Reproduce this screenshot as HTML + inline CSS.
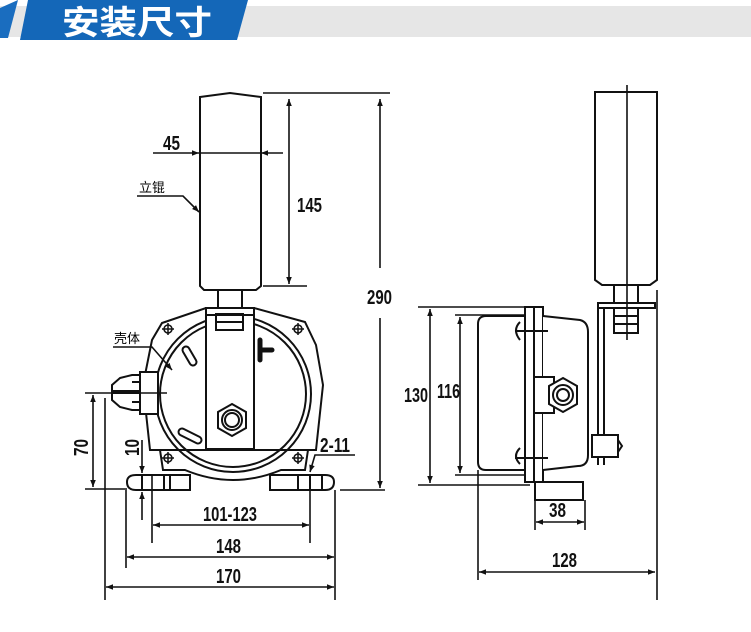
<!DOCTYPE html>
<html><head><meta charset="utf-8"><style>
html,body{margin:0;padding:0;background:#fff;width:751px;height:632px;overflow:hidden}
svg{display:block}
text{font-family:"Liberation Sans","Noto Sans CJK SC",sans-serif}
.d{font-weight:bold;font-size:20px;fill:#111}
</style></head><body>
<svg width="751" height="632" viewBox="0 0 751 632">
<defs>
<marker id="a" viewBox="0 0 10 10" refX="10" refY="5" markerWidth="16" markerHeight="7" markerUnits="userSpaceOnUse" orient="auto-start-reverse"><path d="M0,1 L10,5 L0,9 z" fill="#111"/></marker>
</defs>
<!-- header -->
<rect x="0" y="6" width="751" height="31" fill="#e6e6e6"/>
<polygon points="0,8 18,0 8,38 0,38" fill="#1a6dbf"/>
<polygon points="28,0 248,0 237,40 20,40" fill="#1467b8"/>
<text x="62" y="34" font-size="33" font-weight="bold" fill="#fff" textLength="150" lengthAdjust="spacingAndGlyphs" style="font-family:'Noto Sans CJK SC',sans-serif">安装尺寸</text>

<g stroke="#111" stroke-width="2" fill="none">
<path d="M200,97 L230,93 L261,97 L261,286 L256,290 L204,290 L200,286 Z" fill="#fff"/>
<rect x="218" y="290" width="24" height="18" fill="#fff"/>
<path d="M150,450 L143,385 L152,340 L162,323 L206,308 L254,308 L305,322 L316,345 L323,385 L316,450 Z" fill="#fff"/>
<circle cx="233" cy="394" r="78"/>
<circle cx="233" cy="394" r="73"/>
<path d="M160,450 L163,470 L185,470 Q233,490 281,470 L305,470 L308,450"/>
<rect x="206" y="308" width="48" height="141" fill="#fff"/>
<line x1="206" y1="315" x2="254" y2="315"/>
<rect x="216" y="314" width="27" height="16"/>
<line x1="216" y1="322" x2="243" y2="322"/>
<polygon points="232,404 246,412 246,428 232,436 218,428 218,412" fill="#fff"/>
<circle cx="232" cy="420" r="10"/><circle cx="232" cy="420" r="7"/>
<path d="M260,340 L260,360 M260,350 L272,350" stroke-width="5" stroke-linecap="round"/>
<path d="M186,350 L193,362" stroke-width="9" stroke-linecap="round"/>
<path d="M186,350 L193,362" stroke="#fff" stroke-width="5" stroke-linecap="round"/>
<path d="M182,432 L198,440" stroke-width="9" stroke-linecap="round"/>
<path d="M182,432 L198,440" stroke="#fff" stroke-width="5" stroke-linecap="round"/>
<path d="M120,378 L132,375 L140,375 L140,410 L132,410 L120,407 L112,400 L112,385 Z" fill="#fff"/>
<rect x="140" y="372" width="18" height="42" fill="#fff"/>
<line x1="132" y1="382" x2="140" y2="382"/><line x1="132" y1="402" x2="140" y2="402"/>
<line x1="113" y1="392" x2="140" y2="392" stroke-width="4"/>
<path d="M136,475 L190,475 L190,490 L136,490 Q127,490 127,482 Q127,475 136,475 Z" fill="#fff"/>
<line x1="142" y1="475" x2="142" y2="490"/><line x1="164" y1="475" x2="164" y2="490"/><line x1="170" y1="475" x2="170" y2="490"/>
<path d="M270,475 L325,475 Q334,475 334,482 Q334,490 325,490 L270,490 Z" fill="#fff"/>
<line x1="298" y1="475" x2="298" y2="490"/><line x1="310" y1="475" x2="310" y2="490"/><line x1="322" y1="475" x2="322" y2="490"/>
</g>
<g stroke="#111" stroke-width="1.5" fill="none">
<circle cx="168" cy="329" r="4"/><path d="M162,329h12M168,323v12"/>
<circle cx="298" cy="329" r="4"/><path d="M292,329h12M298,323v12"/>
<circle cx="168" cy="458" r="4"/><path d="M162,458h12M168,452v12"/>
<circle cx="298" cy="458" r="4"/><path d="M292,458h12M298,452v12"/>
</g>

<g stroke="#111" stroke-width="1.6" fill="none">
<line x1="153" y1="153" x2="199" y2="153" marker-end="url(#a)"/>
<line x1="199" y1="153" x2="261" y2="153"/>
<line x1="283" y1="153" x2="261" y2="153" marker-end="url(#a)"/>
<line x1="263" y1="93" x2="390" y2="93"/>
<line x1="263" y1="286" x2="307" y2="286"/>
<line x1="289" y1="99" x2="289" y2="284" marker-start="url(#a)" marker-end="url(#a)"/>
<line x1="380" y1="99" x2="380" y2="268" marker-start="url(#a)"/>
<line x1="380" y1="318" x2="380" y2="488" marker-end="url(#a)"/>
<line x1="340" y1="490" x2="385" y2="490"/>
<path d="M137,196 L183,196 L199,212" marker-end="url(#a)"/>
<path d="M113,347 L152,347 L172,370" marker-end="url(#a)"/>
<line x1="85" y1="393" x2="167" y2="393"/>
<line x1="85" y1="489" x2="127" y2="489"/>
<line x1="93" y1="395" x2="93" y2="487" marker-start="url(#a)" marker-end="url(#a)"/>
<line x1="105" y1="398" x2="105" y2="600"/>
<line x1="142" y1="440" x2="142" y2="473" marker-end="url(#a)"/>
<line x1="142" y1="520" x2="142" y2="492" marker-end="url(#a)"/>
<path d="M355,455 L315,455 L310,472" marker-end="url(#a)"/>
<line x1="152" y1="475" x2="152" y2="543"/><line x1="310" y1="475" x2="310" y2="543"/>
<line x1="153" y1="525" x2="309" y2="525" marker-start="url(#a)" marker-end="url(#a)"/>
<line x1="126" y1="490" x2="126" y2="568"/><line x1="335" y1="490" x2="335" y2="600"/>
<line x1="127" y1="557" x2="334" y2="557" marker-start="url(#a)" marker-end="url(#a)"/>
<line x1="106" y1="587" x2="334" y2="587" marker-start="url(#a)" marker-end="url(#a)"/>
</g>
<text class="d" x="163" y="150" textLength="17" lengthAdjust="spacingAndGlyphs">45</text>
<text class="d" x="297" y="212" textLength="25" lengthAdjust="spacingAndGlyphs">145</text>
<text class="d" x="367" y="304" textLength="25" lengthAdjust="spacingAndGlyphs">290</text>
<text x="139" y="192" font-size="13" style="font-family:'Noto Sans CJK SC',sans-serif">立锟</text>
<text x="114" y="343" font-size="13" style="font-family:'Noto Sans CJK SC',sans-serif">壳体</text>
<text class="d" transform="translate(88,456) rotate(-90)" textLength="17" lengthAdjust="spacingAndGlyphs">70</text>
<text class="d" transform="translate(139,456) rotate(-90)" textLength="17" lengthAdjust="spacingAndGlyphs">10</text>
<text class="d" x="320" y="452" textLength="30" lengthAdjust="spacingAndGlyphs">2-11</text>
<text class="d" x="203" y="521" textLength="54" lengthAdjust="spacingAndGlyphs">101-123</text>
<text class="d" x="216" y="553" textLength="25" lengthAdjust="spacingAndGlyphs">148</text>
<text class="d" x="216" y="583" textLength="25" lengthAdjust="spacingAndGlyphs">170</text>

<g stroke="#111" stroke-width="2" fill="none">
<path d="M595,92 L657,92 L657,280 L650,285 L602,285 L595,280 Z" fill="#fff"/>
<rect x="614" y="285" width="24" height="18" fill="#fff"/>
<rect x="598" y="303" width="57" height="5"/>
<rect x="614" y="308" width="24" height="25"/>
<line x1="614" y1="316" x2="638" y2="316"/><line x1="614" y1="324" x2="638" y2="324"/>
<line x1="598" y1="308" x2="598" y2="465"/><line x1="604" y1="308" x2="604" y2="465"/>
<rect x="592" y="435" width="26" height="22" fill="#fff"/>
<path d="M618,440 L622,446 L618,452"/>
<path d="M486,316 L525,316 L525,470 L486,470 Q478,470 478,462 L478,324 Q478,316 486,316 Z" fill="#fff"/>
<rect x="525" y="307" width="18" height="175" fill="#fff"/>
<line x1="534" y1="307" x2="534" y2="482"/>
<path d="M543,316 L580,320 Q588,322 588,332 L588,455 Q588,466 578,466 L543,470" fill="#fff"/>
<rect x="535" y="482" width="48" height="18"/>
<path d="M520,322 Q512,330 520,340" /><line x1="515" y1="331" x2="548" y2="331"/>
<path d="M520,448 Q512,456 520,464" /><line x1="515" y1="458" x2="548" y2="458"/>
<rect x="534" y="377" width="20" height="36" fill="#fff"/>
<polygon points="563,378 577,386 577,404 563,412 549,404 549,386" fill="#fff"/>
<circle cx="563" cy="395" r="10"/><circle cx="563" cy="395" r="6"/>
</g>
<g stroke="#111" stroke-width="1.6" fill="none">
<line x1="627" y1="85" x2="627" y2="340"/>
<line x1="657" y1="290" x2="657" y2="600"/>
<line x1="418" y1="307" x2="540" y2="307"/>
<line x1="418" y1="485" x2="530" y2="485"/>
<line x1="430" y1="309" x2="430" y2="483" marker-start="url(#a)" marker-end="url(#a)"/>
<line x1="455" y1="315" x2="525" y2="315"/>
<line x1="455" y1="475" x2="525" y2="475"/>
<line x1="460" y1="317" x2="460" y2="473" marker-start="url(#a)" marker-end="url(#a)"/>
<line x1="535" y1="500" x2="535" y2="530"/><line x1="585" y1="500" x2="585" y2="530"/>
<line x1="536" y1="522" x2="584" y2="522" marker-start="url(#a)" marker-end="url(#a)"/>
<line x1="478" y1="470" x2="478" y2="580"/>
<line x1="479" y1="572" x2="655" y2="572" marker-start="url(#a)" marker-end="url(#a)"/>
</g>
<text class="d" x="404" y="402" textLength="24" lengthAdjust="spacingAndGlyphs">130</text>
<text class="d" x="437" y="398" textLength="23" lengthAdjust="spacingAndGlyphs">116</text>
<text class="d" x="549" y="517" textLength="17" lengthAdjust="spacingAndGlyphs">38</text>
<text class="d" x="552" y="567" textLength="25" lengthAdjust="spacingAndGlyphs">128</text>
</svg>
</body></html>
